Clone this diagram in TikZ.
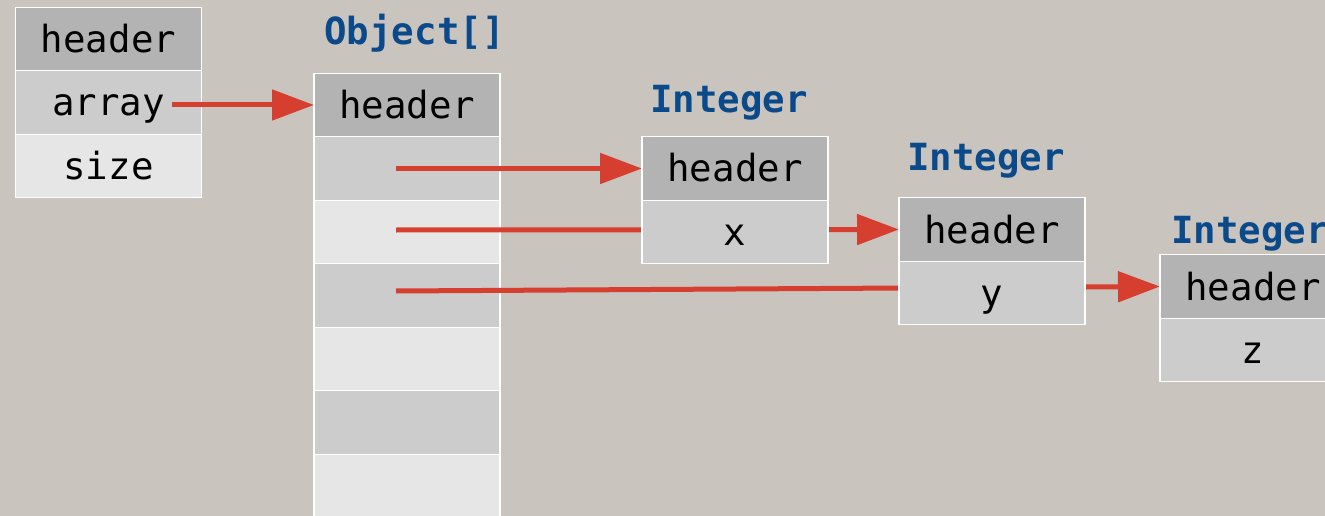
\documentclass[tikz,border=0pt]{standalone}
\usepackage{fontspec}
\setmonofont{DejaVu Sans Mono}
\usetikzlibrary{arrows.meta}
\definecolor{bg}{HTML}{C9C4BE}
\definecolor{hdr}{HTML}{B3B3B3}
\definecolor{mid}{HTML}{CCCCCC}
\definecolor{lite}{HTML}{E6E6E6}
\definecolor{ptr}{HTML}{D63F2F}
\definecolor{ttl}{HTML}{0B4A8A}
\pgfdeclarelayer{front}
\pgfsetlayers{main,front}
\tikzset{
  cell/.style={draw=white, line width=1.4pt, minimum width=186pt, minimum height=63.5pt,
    inner sep=0pt, outer sep=0pt, text height=27pt, text depth=0pt,
    font=\ttfamily\fontsize{37.4}{41}\selectfont},
  hcell/.style={cell, fill=hdr},
  mcell/.style={cell, fill=mid},
  lcell/.style={cell, fill=lite},
  title/.style={anchor=base, inner sep=0pt, text=ttl,
    font=\ttfamily\bfseries\fontsize{37.4}{41}\selectfont},
  ref/.style={draw=ptr, line width=5pt, -{Triangle[length=42pt,width=30pt]}}
}
\begin{document}
\begin{tikzpicture}[x=1pt,y=-1pt]
\useasboundingbox (0,0) rectangle (1325,516);
\fill[bg] (0,0) rectangle (1325,516);

% list object with its fields
\node[hcell] (lh) at (108.5,39) {header};
\node[mcell] (la) at (108.5,102.5) {array};
\node[lcell] (ls) at (108.5,166) {size};

% backing array
\node[title] (tarr) at (414.5,45) {Object[]};
\node[hcell] (oh) at (407,105) {header};
\node[mcell] (o1) at (407,168.5) {};
\node[lcell] (o2) at (407,232) {};
\node[mcell] (o3) at (407,295.5) {};
\node[lcell] (o4) at (407,359) {};
\node[mcell] (o5) at (407,422.5) {};
\node[lcell] (o6) at (407,486) {};

% boxed integers, drawn above the references
\begin{pgfonlayer}{front}
\node[title] (ti1) at (729,113) {Integer};
\node[hcell] (i1h) at (735,168.5) {header};
\node[mcell] (i1v) at (735,232) {x};
\node[title] (ti2) at (986,170) {Integer};
\node[hcell] (i2h) at (992,229.5) {header};
\node[mcell] (i2v) at (992,293) {y};
\node[title] (ti3) at (1250,243) {Integer};
\node[hcell] (i3h) at (1253,286.5) {header};
\node[mcell] (i3v) at (1253,350) {z};
\end{pgfonlayer}

% reference start points
\coordinate (s0) at (172,105);
\coordinate (s1) at (396,168.5);
\coordinate (s2) at (396,230);
\coordinate (s3) at (396,291);

\draw[ref] (s0) -- (oh.west);
\draw[ref] (s1) -- (i1h.west);
\draw[ref] (s2) -- (i2h.west);
\draw[ref] (s3) -- (i3h.west);
\end{tikzpicture}
\end{document}
